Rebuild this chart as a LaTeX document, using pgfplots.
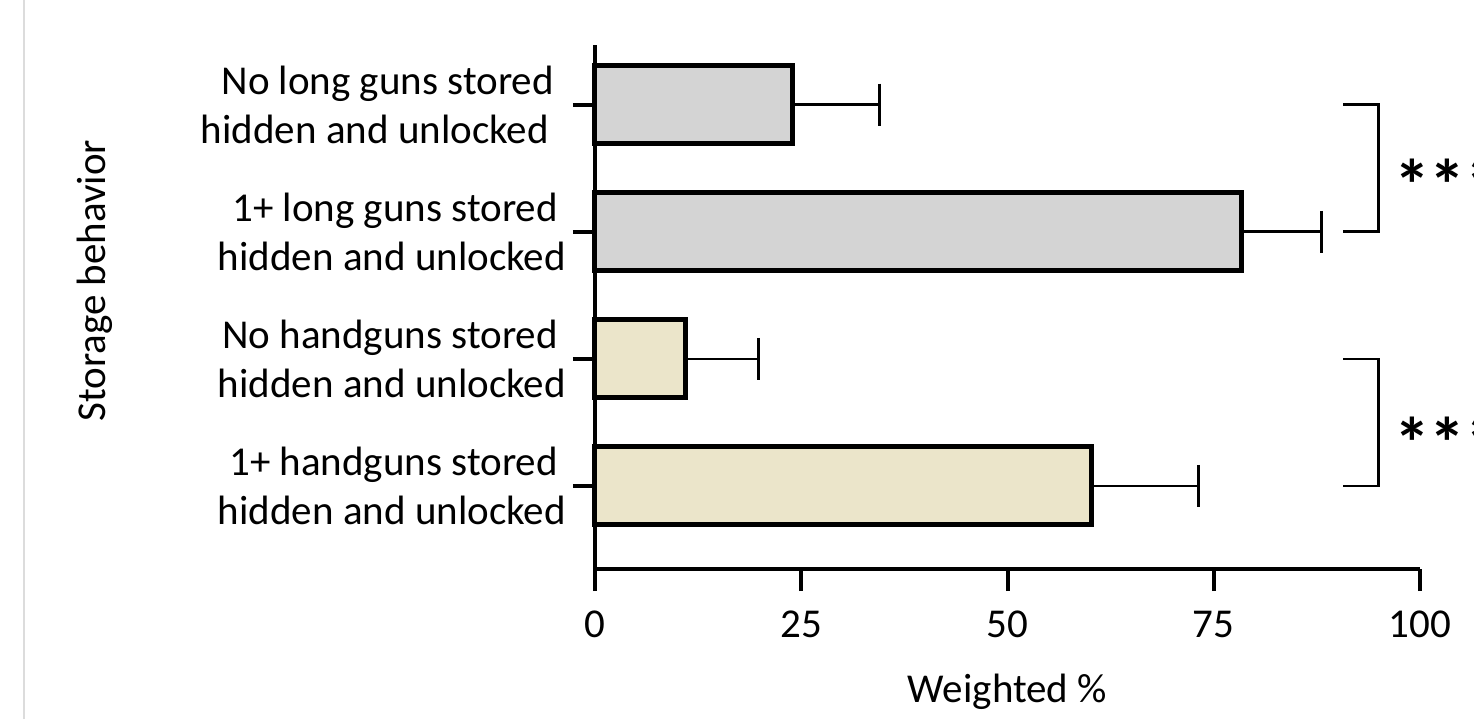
\documentclass[border=0pt]{standalone}
\usepackage{pgfplots}
\pgfplotsset{compat=1.18}
\usepackage{fontspec}
\setmainfont{Carlito}
\definecolor{bargrey}{RGB}{212,212,212}
\definecolor{barbeige}{RGB}{235,229,202}
\definecolor{frameg}{RGB}{220,220,220}
\begin{document}
\begin{tikzpicture}[x=1pt,y=1pt]
\path[use as bounding box] (0,0) rectangle (737,359.5);
\clip (0,0) rectangle (737,359.5);
\draw[frameg, line width=1pt] (12,0) -- (12,359.5);
\begin{axis}[
  at={(297.5pt,75pt)}, anchor=south west, scale only axis,
  width=412.5pt, height=262pt,
  xmin=0, xmax=100, ymin=0.346, ymax=4.47,
  axis x line*=bottom, axis y line*=left,
  axis line style={line width=2.25pt, -},
  xtick={0,25,50,75,100},
  ytick={1,2,3,4},
  yticklabels={
    {1+ handguns stored\hspace*{4pt}\\hidden and unlocked},
    {No handguns stored\hspace*{4pt}\\hidden and unlocked},
    {1+ long guns stored\hspace*{4pt}\\hidden and unlocked},
    {No long guns stored\hspace*{6pt}\\hidden and unlocked\hspace*{8.5pt}}},
  tick align=outside, major tick length=11pt,
  tick style={line width=2pt, black},
  /pgf/number format/assume math mode=true,
  font=\fontsize{20.5}{24.5}\selectfont,
  yticklabel style={align=right, font=\fontsize{20.5}{24.5}\selectfont},
  xticklabel style={font=\fontsize{20.5}{24.5}\selectfont, yshift=-6.5pt},
  xlabel={Weighted \%},
  ylabel={Storage behavior},
  xlabel style={at={(rel axis cs:0.5,0)}, anchor=center, yshift=-61.5pt},
  ylabel style={at={(rel axis cs:-0.606,0.55)}, anchor=center},
  clip=false,
]
\addplot[xbar, bar shift=0pt, bar width=39pt, fill=bargrey, draw=black, line width=2.5pt,
  error bars/.cd, x dir=plus, x explicit,
  error bar style={line width=1.3pt, black},
  error mark options={rotate=90, line width=1.5pt, mark size=10.5pt, black}]
  coordinates {(78.4,3) +- (9.7,0) (23.9,4) +- (10.6,0)};
\addplot[xbar, bar shift=0pt, bar width=39pt, fill=barbeige, draw=black, line width=2.5pt,
  error bars/.cd, x dir=plus, x explicit,
  error bar style={line width=1.3pt, black},
  error mark options={rotate=90, line width=1.5pt, mark size=10.5pt, black}]
  coordinates {(60.2,1) +- (12.9,0) (11.0,2) +- (8.8,0)};
\draw[line width=1.3pt] (axis cs:90.7,4) -- (axis cs:95,4) -- (axis cs:95,3) -- (axis cs:90.7,3);
\draw[line width=1.3pt] (axis cs:90.7,2) -- (axis cs:95,2) -- (axis cs:95,1) -- (axis cs:90.7,1);
\node[anchor=base west, inner sep=0pt, font=\fontsize{36}{38}\selectfont\bfseries] at (axis cs:96.8,3.17) {***};
\node[anchor=base west, inner sep=0pt, font=\fontsize{36}{38}\selectfont\bfseries] at (axis cs:96.8,1.14) {***};
\end{axis}
\end{tikzpicture}
\end{document}
